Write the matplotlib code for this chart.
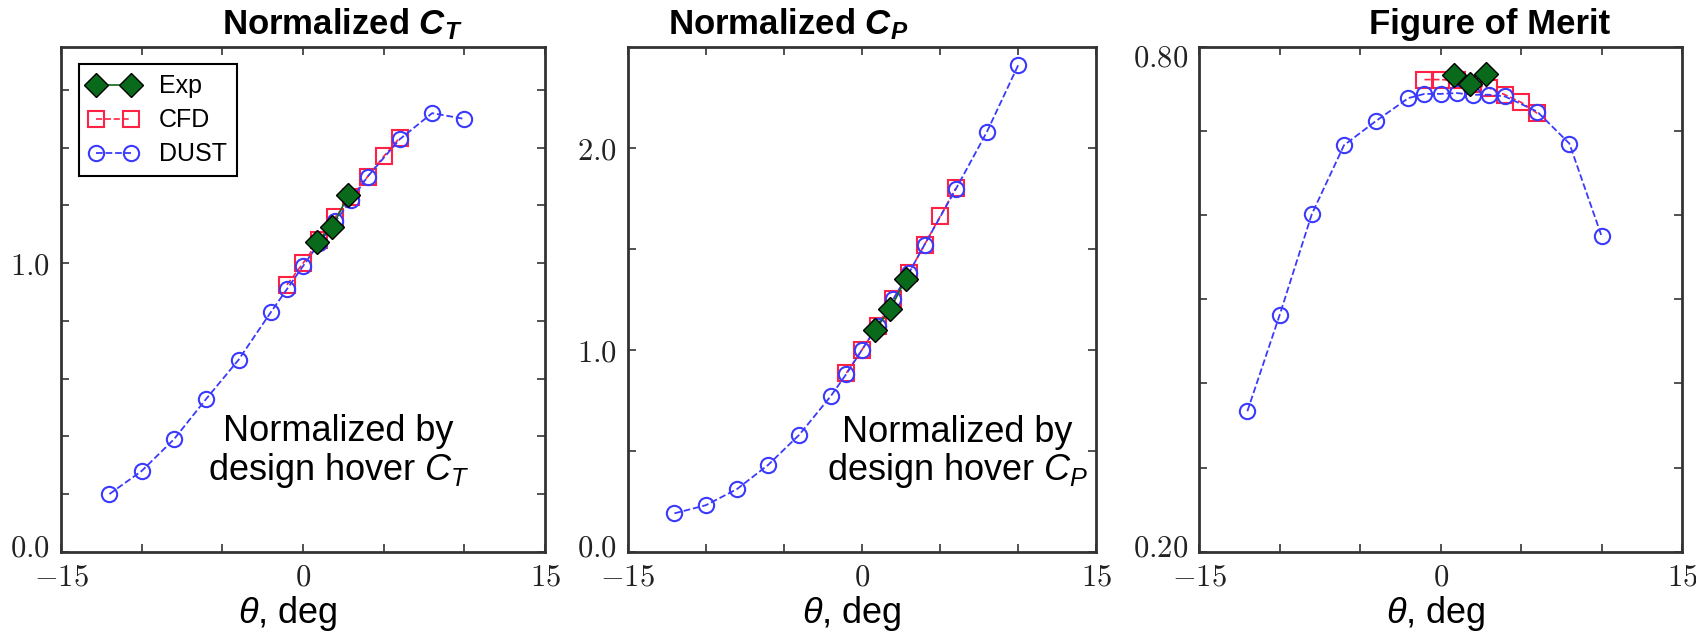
import numpy as np
import matplotlib as mpl
mpl.use('agg')

import matplotlib.pyplot as plt
from matplotlib.ticker import FixedLocator, FuncFormatter
from matplotlib.transforms import ScaledTranslation

# collective pitch, deg
theta_dust = [-12, -10, -8, -6, -4, -2, -1, 0, 1, 2, 3, 4, 6, 8, 10]
theta_cfd = [-1, 0, 1, 2, 3, 4, 5, 6]
theta_exp = [0.85, 1.8, 2.8]

# normalized thrust coefficient
ct_dust = [0.20, 0.28, 0.39, 0.53, 0.665, 0.83, 0.91, 0.99, 1.07, 1.145, 1.22, 1.30, 1.43, 1.52, 1.50]
ct_cfd = [0.925, 1.00, 1.08, 1.16, 1.23, 1.30, 1.37, 1.435]
ct_exp = [1.075, 1.125, 1.235]

# normalized power coefficient
cp_dust = [0.19, 0.23, 0.31, 0.43, 0.58, 0.77, 0.88, 1.00, 1.12, 1.25, 1.38, 1.52, 1.795, 2.08, 2.41]
cp_cfd = [0.885, 1.00, 1.12, 1.25, 1.38, 1.52, 1.66, 1.80]
cp_exp = [1.10, 1.20, 1.35]

# figure of merit
fm_dust = [0.367, 0.481, 0.601, 0.683, 0.712, 0.739, 0.744, 0.744, 0.745, 0.743, 0.743, 0.741, 0.723, 0.685, 0.575]
fm_cfd = [0.761, 0.761, 0.760, 0.756, 0.751, 0.743, 0.734, 0.721]
fm_exp = [0.767, 0.756, 0.768]

plt.rcParams['mathtext.fontset'] = 'cm'
plt.rcParams['mathtext.rm'] = 'Liberation Sans'
plt.rcParams['mathtext.it'] = 'Liberation Sans:italic'
plt.rcParams['mathtext.bf'] = 'Liberation Sans:bold:italic'
plt.rcParams['font.family'] = 'Liberation Sans'

GREEN = '#0a6a1c'
RED = '#ff2244'
BLUE = '#3a3aff'

fig = plt.figure(figsize=(16.96, 6.32), dpi=100)
boxes = [[0.036, 0.127, 0.2854, 0.799],
         [0.370, 0.127, 0.2765, 0.799],
         [0.707, 0.127, 0.2848, 0.799]]

panels = [
    (ct_dust, ct_cfd, ct_exp, (0, 1.75), np.arange(0, 1.61, 0.2), [0.0, 1.0], '%.1f'),
    (cp_dust, cp_cfd, cp_exp, (0, 2.5), np.arange(0, 2.01, 0.5), [0.0, 1.0, 2.0], '%.1f'),
    (fm_dust, fm_cfd, fm_exp, (0.2, 0.8), np.arange(0.2, 0.81, 0.1), [0.2, 0.8], '%.2f'),
]
titles = [r'Normalized $\mathbf{C}_\mathbf{T}$', r'Normalized $\mathbf{C}_\mathbf{P}$', 'Figure of Merit']
title_x = [0.2017, 0.4646, 0.878]
xlab_x = [0.469, 0.478, 0.49]

axes = []
for i, (dust, cfd, exp, ylim, yticks, ylabs, fmt) in enumerate(panels):
    ax = fig.add_axes(boxes[i])
    axes.append(ax)
    ax.plot(theta_exp, exp, '-', color=GREEN, lw=1.2, marker='D', ms=12,
            mfc=GREEN, mec='black', mew=1.0, label='Exp', zorder=4)
    ax.plot(theta_cfd, cfd, '--', color=RED, lw=1.2, marker='s', ms=11,
            mfc='none', mec=RED, mew=1.5, label='CFD', zorder=3)
    ax.plot(theta_dust, dust, '--', color=BLUE, lw=1.3, marker='o', ms=11,
            mfc='none', mec=BLUE, mew=1.5, label='DUST', zorder=3)
    ax.set_xlim(-15, 15)
    ax.set_ylim(*ylim)
    ax.xaxis.set_major_locator(FixedLocator([-15, -10, -5, 0, 5, 10, 15]))
    ax.yaxis.set_major_locator(FixedLocator(yticks))
    ax.xaxis.set_major_formatter(FuncFormatter(
        lambda v, p: r'$%d$' % v if abs(v) in (0, 15) else ''))
    ax.yaxis.set_major_formatter(FuncFormatter(
        lambda v, p, labs=ylabs, f=fmt: (r'$' + f % v + '$') if any(abs(v - l) < 1e-6 for l in labs) else ''))
    ax.tick_params(direction='in', length=6, width=1.2, top=True, right=True,
                   labelsize=22, pad=8, colors='#333333', labelcolor='#222222')
    for s in ax.spines.values():
        s.set_linewidth(2)
        s.set_color('#333333')
    fig.text(title_x[i], 0.962, titles[i], ha='center', va='center', fontsize=25,
             fontweight='bold', math_fontfamily='custom')
    ax.text(xlab_x[i], -0.122, r'$\theta$, deg', transform=ax.transAxes, ha='center',
            va='center', fontsize=26, math_fontfamily='custom')
    if i == 0:
        ax.legend(loc='upper left', numpoints=2, fontsize=18, fancybox=False,
                  edgecolor='black', framealpha=1, handlelength=2.0,
                  borderpad=0.4, labelspacing=0.4, borderaxespad=0.7).get_frame().set_linewidth(1.5)

axes[0].text(2.2, 0.345, 'Normalized by\ndesign hover $C_T$', ha='center', va='center',
             fontsize=26, linespacing=1.05, math_fontfamily='custom')
axes[1].text(6.1, 0.49, 'Normalized by\ndesign hover $C_P$', ha='center', va='center',
             fontsize=26, linespacing=1.05, math_fontfamily='custom')

# y labels sitting on the frame edge are nudged inward, as in the original
fig.canvas.draw()
for ax in axes:
    lo, hi = ax.get_ylim()
    for t in ax.yaxis.get_major_ticks():
        pos = t.get_loc()
        if abs(pos - lo) < 1e-6:
            t.label1.set_transform(t.label1.get_transform() + ScaledTranslation(0, 7 / 100, fig.dpi_scale_trans))
        elif abs(pos - hi) < 1e-6:
            t.label1.set_transform(t.label1.get_transform() + ScaledTranslation(0, -8 / 100, fig.dpi_scale_trans))

fig.savefig('out.png', dpi=100)
